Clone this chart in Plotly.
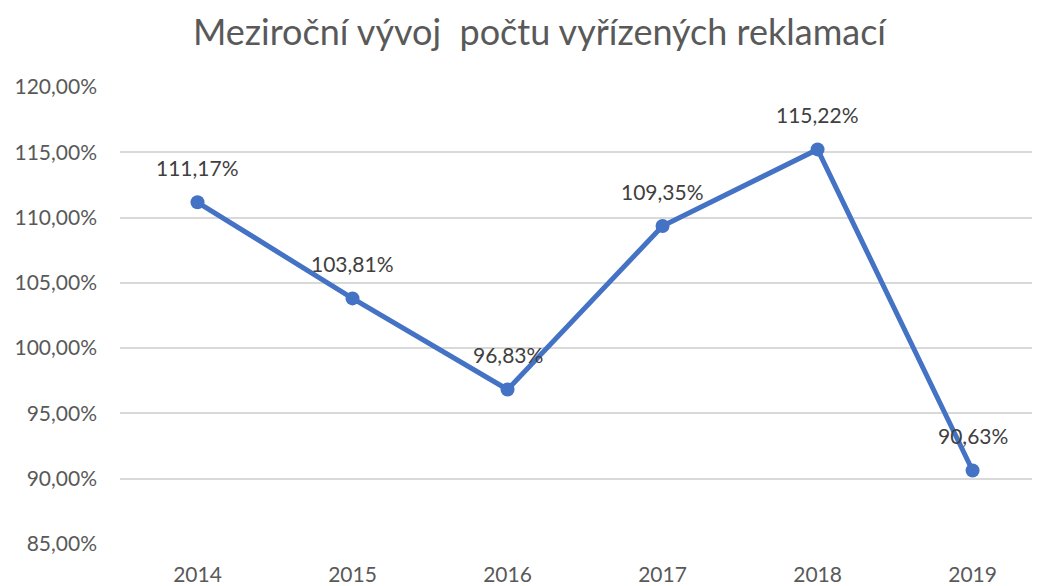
import plotly.graph_objects as go

years = ["2014", "2015", "2016", "2017", "2018", "2019"]
values = [111.17, 103.81, 96.83, 109.35, 115.22, 90.63]
y_ticks = [85, 90, 95, 100, 105, 110, 115, 120]
title_text = "Meziroční vývoj  počtu vyřízených reklamací"

FONT = "Lato, Liberation Sans, sans-serif"
LINE = "#4472C4"

fig = go.Figure()
fig.add_trace(go.Scatter(
    x=list(range(len(years))), y=values, mode="lines+markers",
    line=dict(color=LINE, width=5),
    marker=dict(color=LINE, size=14),
    hoverinfo="skip", showlegend=False,
))

for i, v in enumerate(values):
    fig.add_annotation(
        x=i, y=v, xref="x", yref="y",
        text=f"{v:.2f}".replace(".", ",") + "%",
        showarrow=False, yshift=35, yanchor="middle",
        font=dict(family=FONT, size=21, color="#404040"),
    )

fig.update_layout(
    width=1032, height=578,
    margin=dict(l=112, r=0, t=79, b=39),
    paper_bgcolor="white", plot_bgcolor="white",
    separators=", ",
    title=dict(text=title_text, x=0.515, xanchor="center", y=0.957, yanchor="middle",
               font=dict(family=FONT, size=36, color="#595959")),
    font=dict(family=FONT, color="#595959", size=21),
)
fig.update_xaxes(
    tickmode="array", tickvals=list(range(len(years))), ticktext=years,
    range=[-0.5, 5.435], showgrid=False, zeroline=False, showline=False,
    ticks="", ticklabelstandoff=16,
    tickfont=dict(family=FONT, size=21, color="#595959"),
)
fig.update_yaxes(
    range=[85, 120], tickvals=y_ticks,
    ticktext=[f"{t:.2f}".replace(".", ",") + "%" for t in y_ticks],
    showgrid=True, gridcolor="#D9D9D9", gridwidth=1.5,
    zeroline=False, showline=False, ticks="", ticklabelstandoff=22,
    tickfont=dict(family=FONT, size=21, color="#595959"),
)

fig.write_html("out.html")
